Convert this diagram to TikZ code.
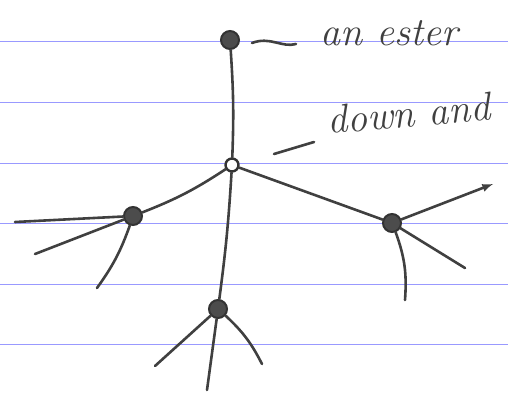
\documentclass[tikz,border=0pt]{standalone}
\usepackage{fontspec}
\tikzset{
  vtx/.style={circle, draw=black!80, fill=black!70, line width=2pt, minimum size=18pt, inner sep=0pt},
  hubvtx/.style={circle, draw=black!80, fill=white, line width=2.4pt, minimum size=13pt, inner sep=0pt},
  edge/.style={line width=2.6pt, black!75, line cap=round},
  ruled/.style={blue!40, line width=1pt},
  hand/.style={font=\fontsize{40}{42}\selectfont\itshape, black!75, inner sep=0pt}
}
\begin{document}
\begin{tikzpicture}[x=1pt, y=-1pt, >=latex]
\useasboundingbox (0,0) rectangle (508,405);
% ruled paper
\foreach \yy in {41.5,102.5,163.5,223.5,284.5,344.5}
  \draw[ruled] (0,\yy) -- (508,\yy);
% vertices
\node[vtx] (top) at (230,40) {};
\node[hubvtx] (hub) at (232,165) {};
\node[vtx] (lft) at (133,216) {};
\node[vtx] (rgt) at (392,223) {};
\node[vtx] (bot) at (218,309) {};
% free ends
\coordinate (l1) at (15,222);
\coordinate (l2) at (35,254);
\coordinate (l3) at (97,288);
\coordinate (r1) at (493,184);
\coordinate (r2) at (465,268);
\coordinate (r3) at (405,300);
\coordinate (b1) at (155,366);
\coordinate (b2) at (207,390);
\coordinate (b3) at (262,364);
% edges
\draw[edge] (top) to[bend left=3] (hub);
\draw[edge] (hub) to[bend left=6] (lft);
\draw[edge] (hub) -- (rgt);
\draw[edge] (hub) to[bend left=2] (bot);
\draw[edge] (lft) -- (l1);
\draw[edge] (lft) -- (l2);
\draw[edge] (lft) to[bend left=8] (l3);
\draw[edge, ->] (rgt) -- (r1);
\draw[edge] (rgt) -- (r2);
\draw[edge] (rgt) to[bend left=12] (r3);
\draw[edge] (bot) -- (b1);
\draw[edge] (bot) -- (b2);
\draw[edge] (bot) to[bend left=10] (b3);
% labels
\node[hand, anchor=base west] (lbltop) at (320,45) {an ester};
\node[hand, anchor=base west, rotate=5] (lblhub) at (328,134) {down and};
\coordinate (p1) at (252,43);
\coordinate (p2) at (296,44);
\draw[edge] (p1) .. controls (270,36) and (282,48) .. (p2);
\coordinate (p3) at (274,154);
\coordinate (p4) at (314,142);
\draw[edge] (p3) -- (p4);
\end{tikzpicture}
\end{document}
